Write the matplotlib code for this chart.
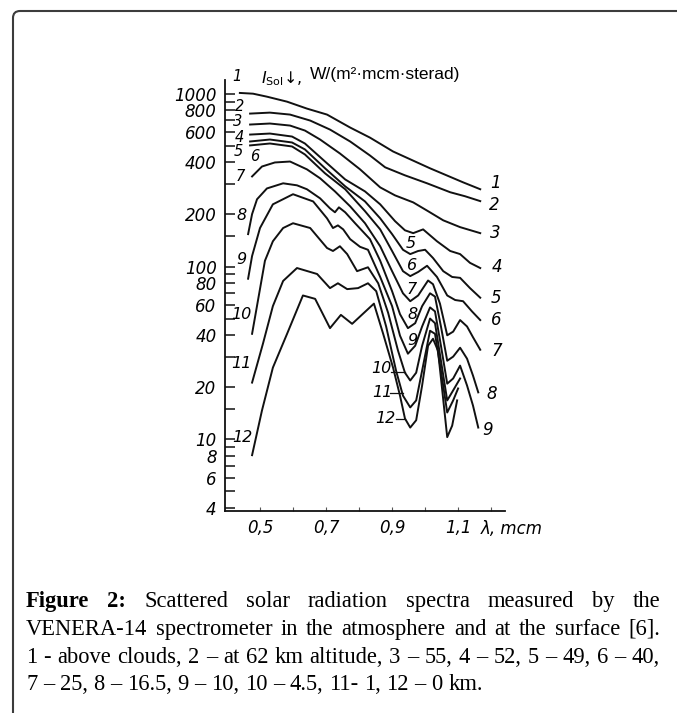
import matplotlib.pyplot as plt
from matplotlib.patches import FancyBboxPatch
from matplotlib.ticker import NullFormatter, NullLocator
from matplotlib.transforms import IdentityTransform

# spectra: wavelength in mcm, intensity in W/(m2 mcm sterad)
lam_1 = [0.439, 0.479, 0.521, 0.582, 0.642, 0.703, 0.773, 0.833, 0.903, 1.015, 1.115, 1.167]
I_1 = [1010, 1000, 961, 899, 820, 757, 637, 557, 463, 370, 307, 280]

lam_2 = [0.470, 0.530, 0.591, 0.652, 0.712, 0.773, 0.833, 0.879, 0.939, 1.006, 1.076, 1.121, 1.167]
I_2 = [767, 777, 757, 699, 620, 529, 439, 375, 337, 303, 269, 255, 239]

lam_3 = [0.470, 0.530, 0.591, 0.636, 0.682, 0.742, 0.803, 0.864, 0.909, 0.964, 1.009, 1.055, 1.106, 1.167]
I_3 = [663, 672, 654, 612, 543, 451, 365, 287, 258, 235, 209, 185, 169, 156]

lam_4 = [0.470, 0.530, 0.597, 0.636, 0.697, 0.758, 0.818, 0.864, 0.909, 0.939, 0.964, 0.994,
         1.036, 1.076, 1.106, 1.136, 1.167]
I_4 = [580, 588, 565, 515, 405, 319, 272, 229, 183, 162, 156, 164, 140, 123, 118, 105, 98]

lam_5 = [0.470, 0.530, 0.597, 0.636, 0.697, 0.758, 0.818, 0.864, 0.900, 0.933, 0.955, 0.979,
         1.000, 1.024, 1.055, 1.082, 1.106, 1.136, 1.167]
I_5 = [529, 543, 522, 476, 370, 291, 238, 190, 154, 125, 118, 123, 125, 112, 94, 87, 86, 75, 66]

lam_6 = [0.470, 0.530, 0.597, 0.636, 0.697, 0.758, 0.818, 0.864, 0.900, 0.933, 0.955, 0.979,
         1.006, 1.036, 1.067, 1.091, 1.115, 1.142, 1.167]
I_6 = [502, 515, 495, 445, 346, 280, 209, 164, 123, 94, 88, 93, 101, 87, 68, 64, 63, 55, 49]

lam_7 = [0.476, 0.506, 0.545, 0.591, 0.642, 0.682, 0.727, 0.773, 0.818, 0.864, 0.900, 0.933,
         0.955, 0.979, 1.009, 1.024, 1.045, 1.067, 1.085, 1.106, 1.127, 1.145, 1.167]
I_7 = [332, 379, 400, 405, 365, 324, 272, 223, 178, 131, 94, 70, 63, 68, 83, 79, 61, 40, 42,
       49, 45, 39, 33]

lam_8 = [0.464, 0.476, 0.491, 0.521, 0.570, 0.612, 0.642, 0.682, 0.712, 0.727, 0.739, 0.758,
         0.788, 0.833, 0.864, 0.900, 0.924, 0.948, 0.970, 0.991, 1.015, 1.030, 1.048, 1.067,
         1.085, 1.106, 1.127, 1.145, 1.161]
I_8 = [154, 201, 245, 283, 303, 295, 280, 248, 217, 206, 220, 206, 178, 144, 108, 72, 53, 44,
       47, 59, 70, 67, 45, 28.5, 30.1, 33.9, 29.3, 23.4, 18.7]

lam_9 = [0.464, 0.476, 0.500, 0.539, 0.600, 0.661, 0.703, 0.721, 0.736, 0.752, 0.773, 0.803,
         0.827, 0.864, 0.900, 0.924, 0.948, 0.970, 0.991, 1.015, 1.030, 1.048, 1.067, 1.085,
         1.106, 1.127, 1.145, 1.161]
I_9 = [85, 115, 167, 229, 262, 238, 190, 167, 173, 164, 144, 130, 125, 87, 59, 39.8, 31.3, 34.8,
       45, 58, 55, 34.8, 21.0, 22.5, 26.7, 20.5, 15.7, 11.7]

lam_10 = [0.476, 0.488, 0.515, 0.539, 0.570, 0.600, 0.652, 0.703, 0.721, 0.742, 0.764, 0.794,
          0.827, 0.858, 0.888, 0.918, 0.939, 0.955, 0.973, 0.991, 1.015, 1.030, 1.048, 1.067,
          1.085, 1.106]
I_10 = [40.8, 55, 108, 140, 167, 178, 167, 128, 123, 131, 118, 94, 99, 80, 54, 32.6, 24.3, 21.9,
        24.3, 34.8, 50, 47, 28.5, 16.8, 19.2, 22.5]

lam_11 = [0.476, 0.509, 0.539, 0.570, 0.612, 0.673, 0.712, 0.736, 0.764, 0.797, 0.827, 0.852,
          0.882, 0.912, 0.933, 0.955, 0.973, 0.991, 1.015, 1.030, 1.048, 1.067, 1.085, 1.100]
I_11 = [21.3, 35.8, 59, 82.5, 98, 90.5, 75, 80, 74, 75, 80, 72, 45, 25, 17.9, 15.3, 16.8, 25,
        42.5, 40.8, 25, 14.3, 16.8, 19.7]

lam_12 = [0.476, 0.506, 0.539, 0.582, 0.630, 0.667, 0.712, 0.745, 0.779, 0.845, 0.873, 0.903,
          0.924, 0.939, 0.955, 0.973, 0.991, 1.009, 1.024, 1.039, 1.052, 1.067, 1.082, 1.097]
I_12 = [8.1, 14.7, 26.0, 40.8, 68, 65, 44, 52.5, 46.6, 61, 40.8, 26.0, 17.9, 13.2, 11.7, 12.9,
        20.5, 34.8, 38.2, 32.6, 19.2, 10.3, 12.0, 16.8]

curves = [(lam_1, I_1), (lam_2, I_2), (lam_3, I_3), (lam_4, I_4), (lam_5, I_5), (lam_6, I_6),
          (lam_7, I_7), (lam_8, I_8), (lam_9, I_9), (lam_10, I_10), (lam_11, I_11), (lam_12, I_12)]

y_major = [4, 6, 8, 10, 20, 40, 60, 80, 100, 200, 400, 600, 800, 1000]
y_minor = [5, 7, 9, 15, 30, 50, 70, 90, 150, 300, 500, 700, 900]
x_ticks = [0.5, 0.6, 0.7, 0.8, 0.9, 1.0, 1.1, 1.2]
x_labels = ['0,5', '', '0,7', '', '0,9', '', '1,1', '']

caption = [
    "Figure 2: Scattered solar radiation spectra measured by the",
    "VENERA-14 spectrometer in the atmosphere and at the surface [6].",
    "1 - above clouds, 2 \u2013 at 62 km altitude, 3 \u2013 55, 4 \u2013 52, 5 \u2013 49, 6 \u2013 40,",
    "7 \u2013 25, 8 \u2013 16.5, 9 \u2013 10, 10 \u2013 4.5, 11- 1, 12 \u2013 0 km.",
]

W, H = 677, 713
fig = plt.figure(figsize=(W / 100, H / 100), dpi=100, facecolor='white')
ax = fig.add_axes([225 / W, 1 - 511 / H, 280 / W, 431 / H])

for lam, inten in curves:
    ax.plot(lam, inten, color='#111111', lw=1.4, solid_joinstyle='round', clip_on=False)

ax.set_yscale('log')
ax.set_xlim(0.394, 1.242)
ax.set_ylim(3.85, 1200)
for s in ['top', 'right']:
    ax.spines[s].set_visible(False)
for s in ['left', 'bottom']:
    ax.spines[s].set_linewidth(1.3)
    ax.spines[s].set_color('#111111')

ax.set_yticks(y_major, [str(v) for v in y_major])
ax.set_yticks(y_minor, minor=True)
ax.yaxis.set_minor_formatter(NullFormatter())
ax.set_xticks(x_ticks, x_labels)
ax.xaxis.set_minor_locator(NullLocator())
ax.tick_params(axis='y', which='both', direction='in', length=7, width=1.1, pad=6,
               labelsize=12, color='#111111')
ax.tick_params(axis='x', direction='in', length=3, width=0.8, pad=6, labelsize=12,
               color='#555555')
for t in ax.get_xticklabels() + ax.get_yticklabels():
    t.set_fontstyle('italic')

ax.text(1.168, 3.03, '\u03bb, mcm', fontsize=12, style='italic', va='center', ha='left',
        clip_on=False)
ax.text(0.503, 1215, r'$I_{\mathrm{Sol}}$' + '\u2193,', fontsize=11.5, va='center', ha='left',
        clip_on=False)
ax.text(0.650, 1287, 'W/(m\u00b2\u00b7mcm\u00b7sterad)', fontsize=12.5, family='Liberation Sans',
        va='center', ha='left', clip_on=False)

# curve numbers
top_labels = [(0.430, 1253, '1'), (0.439, 841, '2'), (0.433, 690, '3'), (0.439, 557, '4'),
              (0.433, 463, '5'), (0.485, 433, '6'), (0.439, 332, '7')]
low_labels = [(0.445, 198, '8'), (0.445, 110, '9'), (0.445, 53, '10'), (0.445, 27.4, '11'),
              (0.448, 10.3, '12')]
right_labels = [(1.212, 303, '1'), (1.209, 226, '2'), (1.212, 156, '3'), (1.218, 99, '4'),
                (1.215, 66, '5'), (1.215, 49, '6'), (1.218, 32.6, '7'), (1.203, 18.4, '8'),
                (1.188, 11.3, '9')]
mid_labels = [(0.955, 135, '5'), (0.961, 101, '6'), (0.958, 74, '7'), (0.961, 52.5, '8'),
              (0.961, 37.2, '9'), (0.867, 25.7, '10'), (0.870, 18.7, '11'), (0.879, 13.2, '12')]
for x, y, s in top_labels:
    ax.text(x, y, s, fontsize=10.5, style='italic', ha='center', va='center', clip_on=False)
for x, y, s in low_labels:
    ax.text(x, y, s, fontsize=11.5, style='italic', ha='center', va='center', clip_on=False)
for x, y, s in right_labels:
    ax.text(x, y, s, fontsize=12, style='italic', ha='center', va='center', clip_on=False)
for x, y, s in mid_labels:
    ax.text(x, y, s, fontsize=11.5, style='italic', ha='center', va='center', clip_on=False)
for x0, x1, y in [(0.897, 0.939, 24.5), (0.894, 0.933, 18.6), (0.912, 0.939, 13.2)]:
    ax.plot([x0, x1], [y, y], color='#111111', lw=0.9, clip_on=False)

# frame of the figure box
fig.add_artist(FancyBboxPatch((13, -30), 720, H - 11 + 30, boxstyle='round,pad=0,rounding_size=7',
                              transform=IdentityTransform(), fill=False, ec='#3c3c3c', lw=1.5))

# justified caption, font size fitted so the tight lines fill the column
X0, X1 = 26, 660
baselines = [607, 635, 663, 690]
r = fig.canvas.get_renderer()


def make_words(i, line, size):
    arts = []
    for j, w in enumerate(line.split(' ')):
        bold = i == 0 and j < 2
        arts.append(fig.text(0, 0, w, fontsize=size, family='Liberation Serif',
                             weight='bold' if bold else 'normal', va='baseline', ha='left'))
    return arts


base = 14.0
space = base * 100 / 72 * 0.25
natural = []
for i in (1, 2):
    tmp = make_words(i, caption[i], base)
    ws = [a.get_window_extent(r).width for a in tmp]
    natural.append(sum(ws) + space * (len(ws) - 1))
    for a in tmp:
        a.remove()
cap_size = base * (X1 - X0) * 0.985 / max(natural)

for i, (line, yb) in enumerate(zip(caption, baselines)):
    arts = make_words(i, line, cap_size)
    widths = [a.get_window_extent(r).width for a in arts]
    if i < len(caption) - 1:
        gap = (X1 - X0 - sum(widths)) / (len(arts) - 1)
    else:
        gap = cap_size * 100 / 72 * 0.25
    x = X0
    for a, wd in zip(arts, widths):
        a.set_position((x / W, 1 - yb / H))
        x += wd + gap

fig.savefig('out.png', dpi=100, facecolor='white')
